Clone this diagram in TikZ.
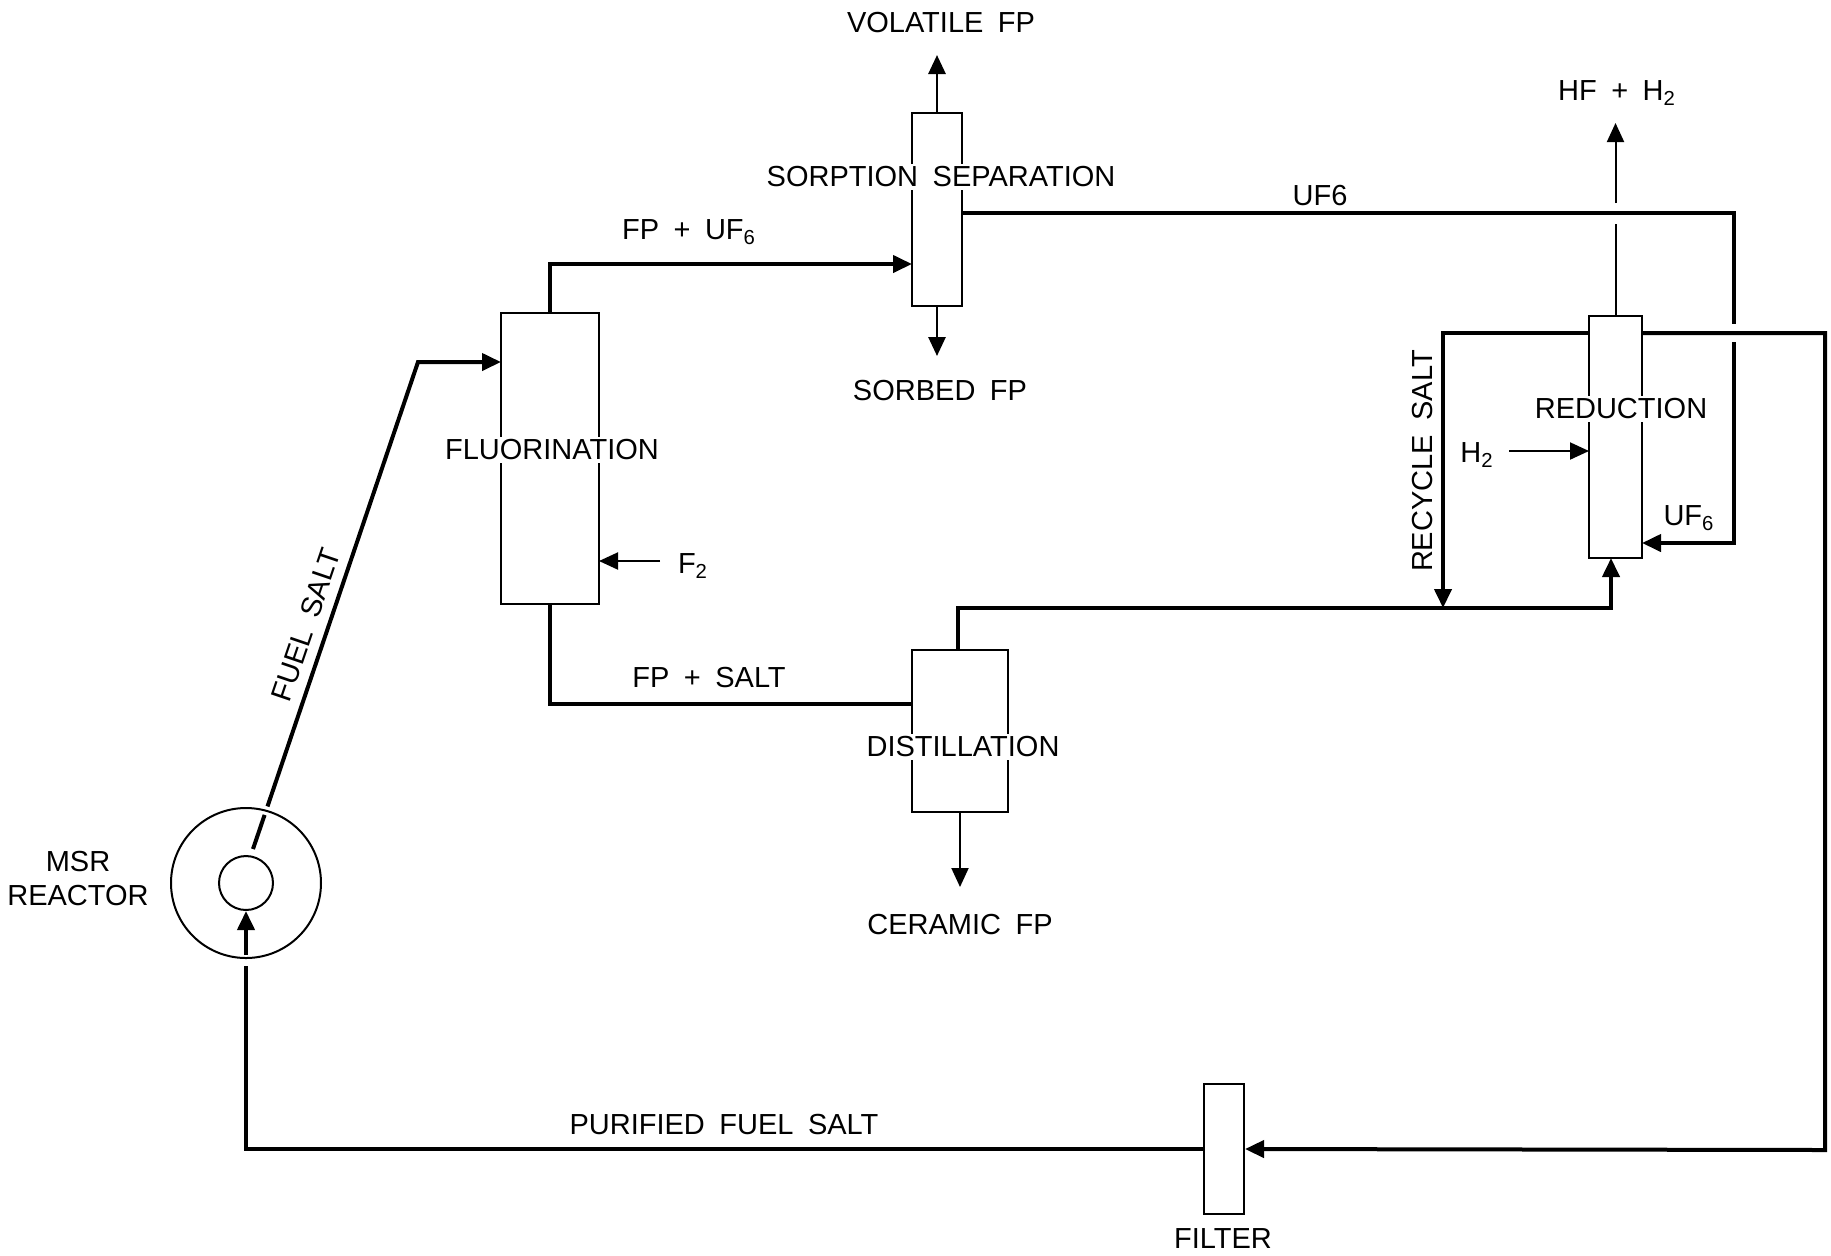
\documentclass[tikz,border=0pt]{standalone}
\usepackage{fontspec}
\setmainfont{Liberation Sans}
\usetikzlibrary{arrows.meta}
\begin{document}
\begin{tikzpicture}[x=0.5pt,y=-0.5pt,
  heavy/.style={line width=2pt},
  medium/.style={line width=1.4pt},
  thin/.style={line width=1pt},
  arr/.style={-{Triangle[length=9.5pt,width=8.5pt]}},
  unit/.style={draw,line width=1pt,inner sep=0pt},
  ring/.style={circle,draw,line width=1pt,inner sep=0pt},
  lbl/.style={font={\fontsize{14.5}{17}\selectfont\spaceskip=0.5em\relax},inner sep=1pt},
  cut/.style={lbl,fill=white,inner sep=1.5pt}]
\useasboundingbox (0,0) rectangle (1831,1255);
% units
\node[unit,minimum width=25pt,minimum height=96.5pt] (sorp) at (937,209.5) {};
\node[unit,minimum width=49pt,minimum height=145.5pt] (fluor) at (550,458.5) {};
\node[unit,minimum width=48pt,minimum height=81pt] (dist) at (960,731) {};
\node[unit,minimum width=26.5pt,minimum height=121pt] (red) at (1615.5,437) {};
\node[unit,minimum width=20pt,minimum height=65pt] (filt) at (1224,1149) {};
\node[ring,minimum size=75pt] (outer) at (246,883) {};
\node[ring,minimum size=27pt] (inner) at (246,883) {};
% coordinates
\coordinate (fs0) at (253,849);
\coordinate (fsg1) at (264.6,814.9);
\coordinate (fsg2) at (267.5,806.4);
\coordinate (fs1) at (418,362);
\coordinate (fs2) at (501,362);
\coordinate (pf1) at (246,1149);
\coordinate (pf2) at (246,966);
\coordinate (pf3) at (246,955);
\coordinate (rl1) at (1825,333);
\coordinate (rl2) at (1825,1150);
\coordinate (rl0) at (1642,333);
\coordinate (rc0) at (1589,333);
\coordinate (rc1) at (1443,333);
\coordinate (rc2) at (1443,608);
\coordinate (do0) at (958,650);
\coordinate (do1) at (958,608);
\coordinate (do2) at (1611,608);
\coordinate (do3) at (1611,558);
\coordinate (ft1) at (550,264);
\coordinate (ft2) at (912,264);
\coordinate (fb1) at (550,704);
\coordinate (fb2) at (912,704);
\coordinate (u0) at (962,213);
\coordinate (u1) at (1734,213);
\coordinate (u2) at (1734,324);
\coordinate (u3) at (1734,342);
\coordinate (u4) at (1734,543);
\coordinate (u5) at (1642,543);
\coordinate (hf1) at (1615.5,224);
\coordinate (hf2) at (1615.5,203);
\coordinate (hf3) at (1615.5,123);
\coordinate (h2a) at (1509,451);
\coordinate (h2b) at (1589,451);
\coordinate (f2a) at (660,561);
\coordinate (f2b) at (599,561);
\coordinate (vol) at (937,55);
\coordinate (sorb) at (937,356);
\coordinate (cer) at (960,887);
% connectors
\draw[heavy] (fs0) -- (fsg1);
\draw[heavy,arr] (fsg2) -- (fs1) -- (fs2);
\draw[heavy] (filt.west) -- (pf1) -- (pf2);
\draw[heavy,arr] (pf3) -- (inner.south);
\draw[heavy,arr] (rl0) -- (rl1) -- (rl2) -- (filt.east);
\draw[heavy,arr] (rc0) -- (rc1) -- (rc2);
\draw[heavy,arr] (do0) -- (do1) -- (do2) -- (do3);
\draw[heavy,arr] (fluor.north) -- (ft1) -- (ft2);
\draw[heavy] (fluor.south) -- (fb1) -- (fb2);
\draw[heavy] (u0) -- (u1) -- (u2);
\draw[heavy,arr] (u3) -- (u4) -- (u5);
\draw[thin] (red.north) -- (hf1);
\draw[thin,arr] (hf2) -- (hf3);
\draw[thin,arr] (h2a) -- (h2b);
\draw[thin,arr] (f2a) -- (f2b);
\draw[medium,arr] (sorp.north) -- (vol);
\draw[medium,arr] (sorp.south) -- (sorb);
\draw[thin,arr] (dist.south) -- (cer);
% labels
\node[lbl] (tvol) at (941,23) {VOLATILE FP};
\node[cut] (tsorp) at (941,177) {SORPTION SEPARATION};
\node[lbl] (tsorb) at (940,391) {SORBED FP};
\node[lbl] (tfpuf) at (689,232) {FP + UF\textsubscript{6}};
\node[cut] (tfluor) at (552,450) {FLUORINATION};
\node[lbl] (tf2) at (693,566) {F\textsubscript{2}};
\node[lbl] (tfps) at (709,677) {FP + SALT};
\node[cut] (tdist) at (963,747) {DISTILLATION};
\node[lbl] (tcer) at (960,924) {CERAMIC FP};
\node[lbl] (tuf) at (1320,196) {UF6};
\node[lbl] (thf) at (1617,93) {HF + H\textsubscript{2}};
\node[cut] (tred) at (1621,409) {REDUCTION};
\node[lbl] (th2) at (1477,455) {H\textsubscript{2}};
\node[lbl] (tuf6) at (1689,518) {UF\textsubscript{6}};
\node[lbl,rotate=90] (trec) at (1422,461) {RECYCLE SALT};
\node[lbl,align=center] (tmsr) at (78,878) {MSR\\REACTOR};
\node[lbl,rotate=71.2] (tfuel) at (306,625) {FUEL SALT};
\node[lbl] (tpur) at (724,1124) {PURIFIED FUEL SALT};
\node[lbl] (tfilt) at (1223,1238) {FILTER};
\end{tikzpicture}
\end{document}
